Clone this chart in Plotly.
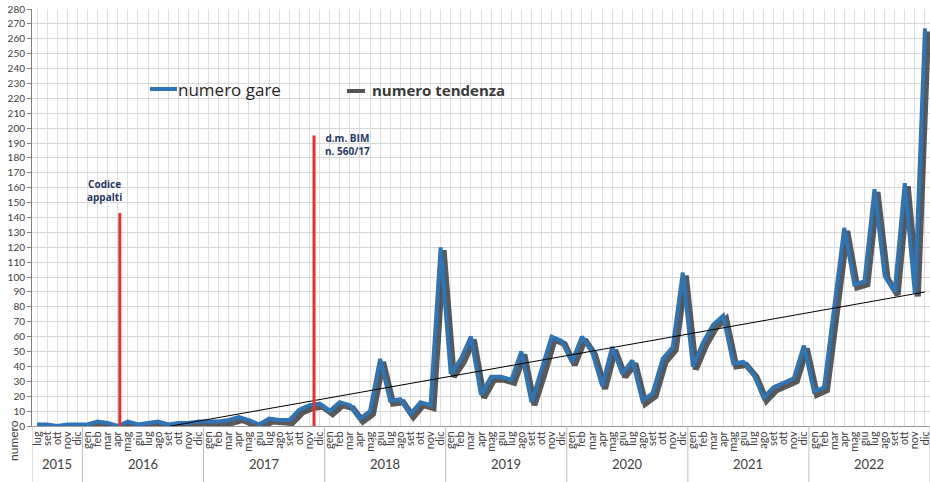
import plotly.graph_objects as go

# ---- data ----
years = ['2015', '2016', '2017', '2018', '2019', '2020', '2021', '2022']
months_2015 = ['lug', 'set', 'ott', 'nov', 'dic']
months_full = ['gen', 'feb', 'mar', 'apr', 'mag', 'giu', 'lug', 'ago', 'set', 'ott', 'nov', 'dic']

v2015 = [1, 1, 0, 1, 1]
v2016 = [1, 3, 2, 0, 3, 1, 2, 3, 1, 2, 2, 3]
v2017 = [3, 3, 4, 6, 4, 1, 5, 4, 4, 11, 14, 15]
v2018 = [10, 16, 14, 5, 10, 45, 17, 18, 8, 16, 14, 120]
v2019 = [35, 45, 60, 21, 33, 33, 31, 50, 16, 37, 60, 57]
v2020 = [43, 60, 50, 27, 53, 35, 44, 17, 22, 45, 53, 103]
v2021 = [40, 56, 68, 74, 42, 43, 35, 19, 26, 29, 32, 54]
v2022 = [23, 26, 80, 133, 95, 97, 159, 101, 90, 163, 89, 267]

trend_values = [-16, 90]   # linear trend at first and last month

event_labels = ['Codice<br>appalti', 'd.m. BIM<br>n. 560/17']
event_heights = [143, 195]

# ---- build ----
month_labels = months_2015 + months_full * 7
values = v2015 + v2016 + v2017 + v2018 + v2019 + v2020 + v2021 + v2022
year_sizes = [len(months_2015)] + [12] * 7
idx = list(range(len(values)))
n = len(values)

W, H = 930, 482
L, R, T, B = 32, 0, 9, 56
pw, ph = W - L - R, H - T - B
xr = [-0.5, n - 0.5]
yr = [0, 280]
px_x = (xr[1] - xr[0]) / pw
px_y = (yr[1] - yr[0]) / ph

def px2paper_x(p):
    return (p - L) / pw

def px2paper_y(p):
    return (H - B - p) / ph

fig = go.Figure()

# shadow of the main line (offset axes)
fig.add_trace(go.Scatter(x=idx, y=values, mode='lines', xaxis='x2', yaxis='y2',
                         line=dict(color='rgba(35,35,35,0.75)', width=6),
                         hoverinfo='skip', showlegend=False))
# main line
fig.add_trace(go.Scatter(x=idx, y=values, mode='lines', xaxis='x3', yaxis='y3',
                         line=dict(color='#2e75b6', width=4),
                         name='numero gare', showlegend=False))
# trend
fig.add_trace(go.Scatter(x=[idx[0], idx[-1]], y=trend_values, mode='lines', xaxis='x3', yaxis='y3',
                         line=dict(color='#000000', width=1),
                         name='numero tendenza', showlegend=False))

shapes = []
annotations = []

# event red lines
event_x = [8.2, 27.45]
for ex, eh, lab, ax_off, ay in zip(event_x, event_heights, event_labels, [-1.5, 3.3], [158, 189]):
    shapes.append(dict(type='line', xref='x', yref='y', x0=ex, x1=ex, y0=0, y1=eh,
                       line=dict(color='#e8302e', width=3), layer='above'))
    annotations.append(dict(xref='x', yref='y', x=ex + ax_off, y=ay, text='<b>' + lab + '</b>',
                            showarrow=False, font=dict(family='Open Sans', size=10, color='#1f3864'),
                            align='center'))

# year separators and labels
start = 0
ysep0 = px2paper_y(H)
shapes.append(dict(type='line', xref='x', yref='paper', x0=-0.5, x1=-0.5, y0=0, y1=ysep0,
                   line=dict(color='#bfbfbf', width=1)))
for yname, sz in zip(years, year_sizes):
    end = start + sz
    shapes.append(dict(type='line', xref='x', yref='paper', x0=end - 0.5, x1=end - 0.5,
                       y0=0, y1=ysep0, line=dict(color='#bfbfbf', width=1)))
    annotations.append(dict(xref='x', yref='paper', x=(start + end - 1) / 2, y=px2paper_y(474),
                            text=yname, showarrow=False,
                            font=dict(family='Lato', size=13, color='#404040')))
    start = end

# axis title "numero"
annotations.append(dict(xref='paper', yref='paper', x=px2paper_x(13), y=px2paper_y(441),
                        xanchor='center', yanchor='middle',
                        text='numero', textangle=-90, showarrow=False,
                        font=dict(family='Lato', size=12, color='#404040')))

# custom legend
shapes.append(dict(type='line', xref='paper', yref='paper', x0=px2paper_x(150), x1=px2paper_x(177),
                   y0=px2paper_y(89), y1=px2paper_y(89), line=dict(color='#2e75b6', width=4)))
annotations.append(dict(xref='paper', yref='paper', x=px2paper_x(176), y=px2paper_y(89),
                        xanchor='left', yanchor='middle', text='numero gare', showarrow=False,
                        font=dict(family='Open Sans', size=17, color='#262626')))
shapes.append(dict(type='line', xref='paper', yref='paper', x0=px2paper_x(347), x1=px2paper_x(365),
                   y0=px2paper_y(91), y1=px2paper_y(91), line=dict(color='#555555', width=4)))
annotations.append(dict(xref='paper', yref='paper', x=px2paper_x(370), y=px2paper_y(90),
                        xanchor='left', yanchor='middle', text='<b>numero tendenza</b>', showarrow=False,
                        font=dict(family='Open Sans', size=15, color='#3a3a3a')))

fig.update_layout(
    width=W, height=H,
    margin=dict(l=L, r=R, t=T, b=B, autoexpand=False),
    paper_bgcolor='white', plot_bgcolor='white',
    showlegend=False,
    xaxis=dict(range=xr, tickmode='array', tickvals=idx, ticktext=month_labels,
               tickangle=-90, tickfont=dict(family='Lato', size=11, color='#404040'),
               ticklabeloverflow='allow',
               showgrid=True, gridcolor='#dedede', gridwidth=1,
               showline=True, linecolor='#9a9a9a', ticks='', zeroline=False),
    yaxis=dict(range=yr, tickmode='linear', tick0=0, dtick=10,
               tickfont=dict(family='Lato', size=10, color='#404040'),
               showgrid=True, gridcolor='#d6d6d6', gridwidth=1,
               showline=True, linecolor='#7f7f7f', ticks='outside', ticklen=4, tickcolor='#7f7f7f',
               zeroline=False),
    xaxis2=dict(range=[xr[0] - 3 * px_x, xr[1] - 3 * px_x], overlaying='x', visible=False),
    yaxis2=dict(range=[yr[0] + 3 * px_y, yr[1] + 3 * px_y], overlaying='y', visible=False),
    xaxis3=dict(range=xr, overlaying='x', visible=False),
    yaxis3=dict(range=yr, overlaying='y', visible=False),
    shapes=shapes,
    annotations=annotations,
)

fig.write_html('out.html', config={'displayModeBar': False},
               post_script="document.body.style.margin='0';document.body.style.overflow='hidden';")
